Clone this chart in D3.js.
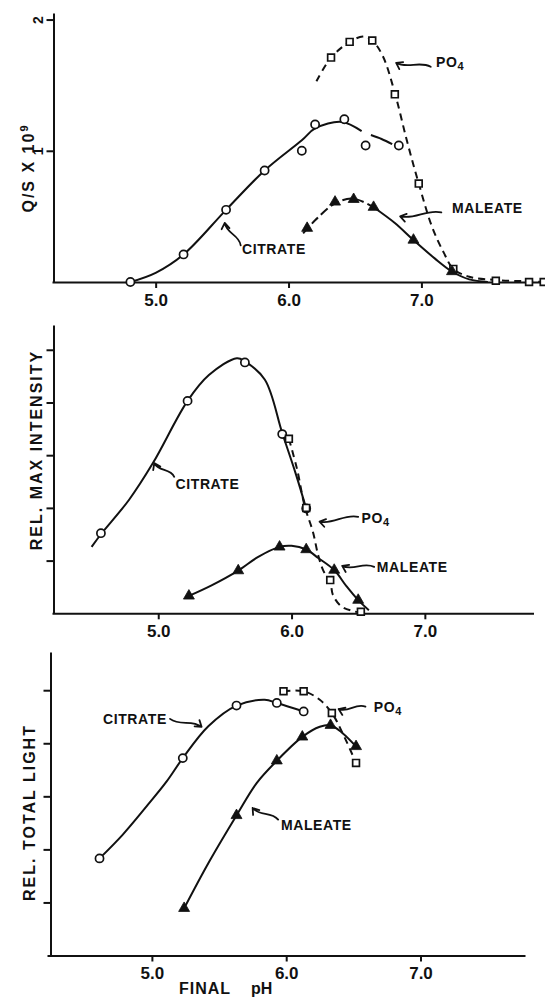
<!DOCTYPE html>
<html lang="en">
<head>
<meta charset="UTF-8">
<title>Q/S, max intensity and total light vs final pH</title>
<script src="https://d3js.org/d3.v7.min.js"></script>
<style>
  body { margin: 0; background: #fff; }
  svg text { font-family: "Liberation Sans", Arial, sans-serif; font-weight: bold; }
</style>
</head>
<body>
<script>
// values: [final pH, value]
var xTicks = [5.0, 6.0, 7.0];
var qsTicks = [1, 2];
var relTicks = [1, 2, 3, 4, 5];

// top: Q/S x 10^9
var qsCitrate = [[4.81,0],[5.21,0.21],[5.53,0.55],[5.82,0.85],[6.10,1.00],[6.20,1.20],[6.42,1.24],[6.58,1.04],[6.83,1.04]];
var qsPO4 = [[6.32,1.71],[6.46,1.83],[6.63,1.84],[6.80,1.43],[6.98,0.75],[7.24,0.10],[7.56,0.01],[7.81,0.0],[7.92,0.0]];
var qsMaleate = [[6.14,0.41],[6.35,0.61],[6.49,0.63],[6.64,0.57],[6.94,0.32],[7.23,0.08]];
// hand drawn curves
var qsCitrateCurve = [[4.81,0],[5.0,0.07],[5.21,0.21],[5.53,0.55],[5.82,0.85],[6.10,1.08],[6.20,1.17],[6.40,1.22],[6.55,1.15]];
var qsCitrateTail = [[6.62,1.12],[6.70,1.09],[6.78,1.05]];
var qsPO4Curve = [[6.21,1.53],[6.32,1.71],[6.46,1.83],[6.56,1.87],[6.63,1.84],[6.71,1.72],[6.80,1.44],[6.89,1.08],[6.98,0.75],[7.08,0.42],[7.17,0.22],[7.24,0.10],[7.36,0.04],[7.56,0.015],[7.81,0.005],[7.93,0.0]];
var qsMaleateCurveA = [[6.11,0.37],[6.20,0.47],[6.35,0.60],[6.49,0.635],[6.64,0.57]];
var qsMaleateCurveB = [[6.64,0.57],[6.80,0.45],[6.94,0.32],[7.10,0.18],[7.23,0.08],[7.36,0.02],[7.50,0.0]];

// middle: relative max intensity
var maxCitrate = [[4.57,1.52],[5.22,4.03],[5.65,4.76],[5.93,3.40],[6.11,1.99]];
var maxPO4 = [[5.98,3.31],[6.11,2.00],[6.29,0.63],[6.52,0.03]];
var maxMaleate = [[5.23,0.33],[5.60,0.81],[5.91,1.26],[6.11,1.21],[6.32,0.82],[6.50,0.25]];
var maxCitrateCurve = [[4.50,1.26],[4.57,1.50],[4.78,2.15],[4.96,2.85],[5.22,4.03],[5.38,4.52],[5.59,4.84],[5.65,4.78],[5.80,4.43],[5.93,3.42],[6.03,2.66],[6.12,1.90]];
var maxPO4Curve = [[5.98,3.31],[6.04,2.75],[6.10,2.02],[6.16,1.55],[6.20,1.10],[6.24,0.80],[6.29,0.60],[6.31,0.35],[6.37,0.14],[6.45,0.05],[6.52,0.02],[6.56,0.06]];
var maxMaleateCurve = [[5.23,0.33],[5.40,0.53],[5.60,0.81],[5.75,1.07],[5.91,1.26],[6.00,1.28],[6.11,1.21],[6.20,1.05],[6.32,0.82],[6.41,0.52],[6.50,0.25],[6.58,0.06]];

// bottom: relative total light
var lightCitrate = [[4.61,1.83],[5.23,3.72],[5.63,4.71],[5.93,4.76],[6.13,4.60]];
var lightPO4 = [[5.98,4.98],[6.13,4.98],[6.34,4.57],[6.52,3.63]];
var lightMaleate = [[5.24,0.89],[5.63,2.64],[5.93,3.67],[6.12,4.12],[6.33,4.34],[6.52,3.94]];
var lightCitrateCurve = [[4.61,1.83],[4.78,2.27],[4.96,2.81],[5.11,3.28],[5.23,3.72],[5.42,4.32],[5.63,4.71],[5.84,4.82],[5.93,4.76],[6.13,4.60]];
var lightPO4Curve = [[5.98,4.98],[6.13,4.98],[6.25,4.82],[6.34,4.57],[6.42,4.19],[6.52,3.63]];
var lightMaleateCurve = [[5.24,0.89],[5.42,1.74],[5.63,2.64],[5.78,3.25],[5.93,3.67],[6.12,4.12],[6.25,4.31],[6.33,4.34],[6.42,4.19],[6.52,3.94]];

var ink = "#111";
var svg = d3.select("body").append("svg").attr("width", 545).attr("height", 999);

function panel(o) {
  var x = d3.scaleLinear().domain(o.xDomain).range(o.xRange);
  var y = d3.scaleLinear().domain(o.yDomain).range(o.yRange);
  var g = svg.append("g");

  var xa = g.append("g").attr("transform", "translate(0," + o.yRange[0] + ")")
    .call(d3.axisBottom(x).tickValues(xTicks).tickFormat(d3.format(".1f"))
      .tickSize(6).tickSizeOuter(0).tickPadding(o.xPad));
  var ya = g.append("g").attr("transform", "translate(" + o.yAxisX + ",0)")
    .call(d3.axisLeft(y).tickValues(o.yTicks).tickSize(7).tickSizeOuter(0)
      .tickFormat(o.yLabels ? d3.format("d") : ""));

  g.selectAll("path.domain, .tick line").attr("stroke", ink).attr("stroke-width", 2);
  xa.selectAll("text").attr("font-size", 17).attr("fill", ink);
  if (o.yLabels) {
    ya.selectAll(".tick text").attr("x", null).attr("dy", null)
      .attr("text-anchor", "middle").attr("font-size", 14).attr("fill", ink)
      .attr("transform", "translate(-11,0) rotate(-90)");
  }

  var t = g.append("text")
    .attr("transform", "translate(" + o.titleX + "," + o.titleY + ") rotate(-90)")
    .attr("text-anchor", "middle").attr("dy", "0.35em")
    .attr("font-size", 16).attr("letter-spacing", 2).attr("fill", ink);
  t.append("tspan").text(o.title);
  if (o.titleSup) t.append("tspan").attr("font-size", 11).attr("dy", -6).text(o.titleSup);

  return { g: g, x: x, y: y };
}

function curve(p, data, dash) {
  p.g.append("path").datum(data)
    .attr("d", d3.line().x(d => p.x(d[0])).y(d => p.y(d[1])).curve(d3.curveCatmullRom.alpha(0.5)))
    .attr("fill", "none").attr("stroke", ink).attr("stroke-width", 2)
    .attr("stroke-dasharray", dash || null);
}

function marks(p, data, kind) {
  var sym = { circle: d3.symbolCircle, square: d3.symbolSquare, triangle: d3.symbolTriangle }[kind];
  var size = { circle: 52, square: 46, triangle: 52 }[kind];
  p.g.selectAll(null).data(data).join("path")
    .attr("transform", d => "translate(" + p.x(d[0]) + "," + p.y(d[1]) + ")")
    .attr("d", d3.symbol().type(sym).size(size))
    .attr("fill", kind === "triangle" ? ink : "#fff")
    .attr("stroke", ink).attr("stroke-width", kind === "triangle" ? 0.8 : 1.7);
}

function label(p, at, txt, sub) {
  var t = p.g.append("text").attr("x", p.x(at[0])).attr("y", p.y(at[1]))
    .attr("dy", "0.36em").attr("font-size", 14).attr("letter-spacing", 0.6).attr("fill", ink);
  t.append("tspan").text(txt);
  if (sub) t.append("tspan").attr("font-size", 11).attr("dy", 3).text(sub);
}

// wavy hand-drawn arrow from tail to head, given in data units
function arrow(p, tail, head) {
  var x1 = p.x(tail[0]), y1 = p.y(tail[1]), x2 = p.x(head[0]), y2 = p.y(head[1]);
  var dx = x2 - x1, dy = y2 - y1, L = Math.hypot(dx, dy);
  var nx = -dy / L, ny = dx / L, w = Math.min(5, L * 0.2);
  var c1 = [x1 + dx * 0.35 + nx * w, y1 + dy * 0.35 + ny * w];
  var c2 = [x1 + dx * 0.65 - nx * w, y1 + dy * 0.65 - ny * w];
  var ux = x2 - c2[0], uy = y2 - c2[1], ul = Math.hypot(ux, uy);
  ux /= ul; uy /= ul;
  var a = 0.6, h = 7;
  var h1 = [x2 - h * (ux * Math.cos(a) - uy * Math.sin(a)), y2 - h * (uy * Math.cos(a) + ux * Math.sin(a))];
  var h2 = [x2 - h * (ux * Math.cos(a) + uy * Math.sin(a)), y2 - h * (uy * Math.cos(a) - ux * Math.sin(a))];
  p.g.append("path")
    .attr("d", "M" + x1 + "," + y1 + "C" + c1 + " " + c2 + " " + x2 + "," + y2 +
      "M" + h1 + "L" + x2 + "," + y2 + "L" + h2)
    .attr("fill", "none").attr("stroke", ink).attr("stroke-width", 1.8)
    .attr("stroke-linecap", "round").attr("stroke-linejoin", "round");
}

// ---- top panel ----
var p1 = panel({ xDomain: [4.22, 7.93], xRange: [52, 545], yAxisX: 53.5,
  yDomain: [0, 2.05], yRange: [282, 13], yTicks: qsTicks, yLabels: true, xPad: 6,
  title: "Q/S X 10", titleSup: "9", titleX: 28, titleY: 168 });
curve(p1, qsCitrateCurve);
curve(p1, qsCitrateTail);
curve(p1, qsPO4Curve, "7,5");
curve(p1, qsMaleateCurveA, "9,4");
curve(p1, qsMaleateCurveB);
marks(p1, qsCitrate, "circle");
marks(p1, qsPO4, "square");
marks(p1, qsMaleate, "triangle");
label(p1, [7.11, 1.68], "PO", "4");
arrow(p1, [7.07, 1.64], [6.81, 1.67]);
label(p1, [7.23, 0.565], "MALEATE");
arrow(p1, [7.15, 0.53], [6.84, 0.50]);
label(p1, [5.65, 0.25], "CITRATE");
arrow(p1, [5.64, 0.28], [5.52, 0.45]);

// ---- middle panel ----
var p2 = panel({ xDomain: [4.203, 7.815], xRange: [52, 533.5], yAxisX: 53.5,
  yDomain: [0, 5.47], yRange: [613.3, 325], yTicks: relTicks, yLabels: false, xPad: 6,
  title: "REL. MAX  INTENSITY", titleX: 36.5, titleY: 450 });
curve(p2, maxCitrateCurve);
curve(p2, maxPO4Curve, "7,5");
curve(p2, maxMaleateCurve);
marks(p2, maxCitrate, "circle");
marks(p2, maxPO4, "square");
marks(p2, maxMaleate, "triangle");
label(p2, [5.13, 2.45], "CITRATE");
arrow(p2, [5.12, 2.59], [4.97, 2.85]);
label(p2, [6.525, 1.80], "PO", "4");
arrow(p2, [6.50, 1.83], [6.21, 1.74]);
label(p2, [6.64, 0.88], "MALEATE");
arrow(p2, [6.62, 0.88], [6.38, 0.90]);

// ---- bottom panel ----
var p3 = panel({ xDomain: [4.219, 7.778], xRange: [47, 525], yAxisX: 50.5,
  yDomain: [0, 5.72], yRange: [955.5, 652], yTicks: relTicks, yLabels: false, xPad: 5,
  title: "REL. TOTAL LIGHT", titleX: 29.5, titleY: 812.5 });
curve(p3, lightCitrateCurve);
curve(p3, lightPO4Curve, "7,5");
curve(p3, lightMaleateCurve);
marks(p3, lightCitrate, "circle");
marks(p3, lightPO4, "square");
marks(p3, lightMaleate, "triangle");
label(p3, [4.636, 4.46], "CITRATE");
arrow(p3, [5.135, 4.46], [5.37, 4.31]);
label(p3, [6.652, 4.68], "PO", "4");
arrow(p3, [6.59, 4.69], [6.39, 4.645]);
label(p3, [5.961, 2.46], "MALEATE");
arrow(p3, [5.94, 2.56], [5.75, 2.78]);

svg.append("text").attr("x", 179).attr("y", 994).attr("font-size", 16)
  .attr("letter-spacing", 1).attr("fill", ink).text("FINAL");
svg.append("text").attr("x", 251).attr("y", 994).attr("font-size", 16)
  .attr("fill", ink).text("pH");
</script>
</body>
</html>
